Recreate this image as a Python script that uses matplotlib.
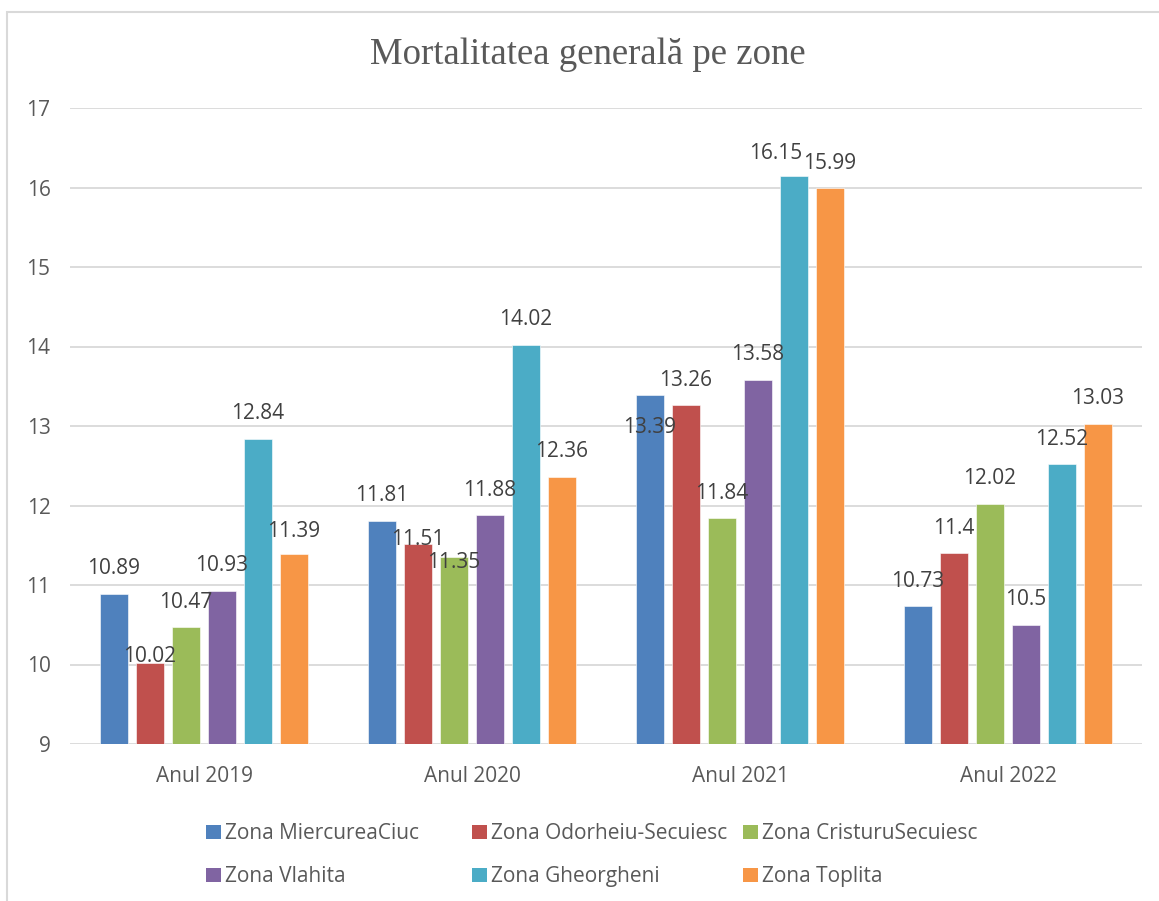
import matplotlib
matplotlib.use("Agg")
import matplotlib.pyplot as plt
from matplotlib.patches import Patch, Rectangle
import numpy as np

# ---------------------------------------------------------------------------
# Date
# ---------------------------------------------------------------------------
ani = ["Anul 2019", "Anul 2020", "Anul 2021", "Anul 2022"]
zone = ["Zona MiercureaCiuc", "Zona Odorheiu-Secuiesc", "Zona CristuruSecuiesc",
        "Zona Vlahita", "Zona Gheorgheni", "Zona Toplita"]

miercurea_ciuc = [10.89, 11.81, 13.39, 10.73]
odorheiu = [10.02, 11.51, 13.26, 11.4]
cristuru = [10.47, 11.35, 11.84, 12.02]
vlahita = [10.93, 11.88, 13.58, 10.5]
gheorgheni = [12.84, 14.02, 16.15, 12.52]
toplita = [11.39, 12.36, 15.99, 13.03]

serii = [miercurea_ciuc, odorheiu, cristuru, vlahita, gheorgheni, toplita]
culori = ["#4F81BD", "#C0504D", "#9BBB59", "#8064A2", "#4BACC6", "#F79646"]

# deplasari ale etichetelor (px) fata de varful barei, unde Excel le-a mutat
# cheie: (serie, an)
DEFAULT_OFF = (0, 25)
label_off = {
    (1, 0): (0, 6),
    (1, 1): (0, 5),
    (2, 1): (0, -5),
    (0, 2): (0, -33),
    (4, 2): (-18, 22),
    (5, 0): (0, 22),
}

TXT = "#404040"
FONT = "Open Sans"

fig = plt.figure(figsize=(11.59, 9.01), dpi=100)
ax = fig.add_axes([70 / 1159, 1 - 744 / 901, 1072 / 1159, 636 / 901])

step = 36 / 268
width = 28 / 268
x = np.arange(len(ani))

handles = []
for j, (vals, col) in enumerate(zip(serii, culori)):
    pos = x + (j - 2.5) * step
    ax.bar(pos, np.array(vals) - 9, bottom=9, width=width, color=col,
           edgecolor="white", linewidth=0.4, zorder=3)
    for i, v in enumerate(vals):
        dx, dy = label_off.get((j, i), DEFAULT_OFF)
        ax.annotate(f"{v:g}", xy=(pos[i], v), xytext=(dx * 0.72, dy * 0.72),
                    textcoords="offset points", ha="center", va="center",
                    fontsize=15, color=TXT, family=FONT, zorder=5)
    handles.append(Patch(facecolor=col, edgecolor="none", label=zone[j]))

ax.set_xlim(-0.5, 3.5)
ax.set_ylim(9, 17)
ax.set_yticks(range(9, 18))
ax.set_xticks(x)
ax.set_xticklabels(ani)
for s in ax.spines.values():
    s.set_visible(False)
ax.grid(axis="y", color="#D9D9D9", linewidth=1.3, zorder=0)
ax.tick_params(axis="both", length=0, labelsize=15, labelcolor="#595959")
ax.tick_params(axis="y", pad=14)
ax.tick_params(axis="x", pad=16)
for t in ax.get_xticklabels() + ax.get_yticklabels():
    t.set_family(FONT)

fig.text(588 / 1159, 1 - 55 / 901, "Mortalitatea generală pe zone",
         ha="center", va="center", fontsize=26.5, color="#595959",
         family="Liberation Serif")

# ---------------------------------------------------------------------------
# Legenda - trei coloane egale, ca in Excel
# ---------------------------------------------------------------------------
col_x = [196, 462, 733]
for k in range(3):
    leg = fig.legend(handles=[handles[k], handles[k + 3]], loc="upper left",
                     bbox_to_anchor=(col_x[k] / 1159, 1 - 813 / 901),
                     frameon=False, handlelength=0.7, handleheight=0.7,
                     handletextpad=0.2, labelspacing=1.05, borderpad=0,
                     prop={"family": FONT, "size": 15})
    for t in leg.get_texts():
        t.set_color("#595959")

# ramka graficului (doar stanga si sus se vad)
fig.add_artist(Rectangle((7 / 1159, -0.2), 1.2, 1.2 - 12 / 901,
                         transform=fig.transFigure, fill=False,
                         edgecolor="#D9D9D9", linewidth=1.5))

fig.savefig("out.png", dpi=100)
